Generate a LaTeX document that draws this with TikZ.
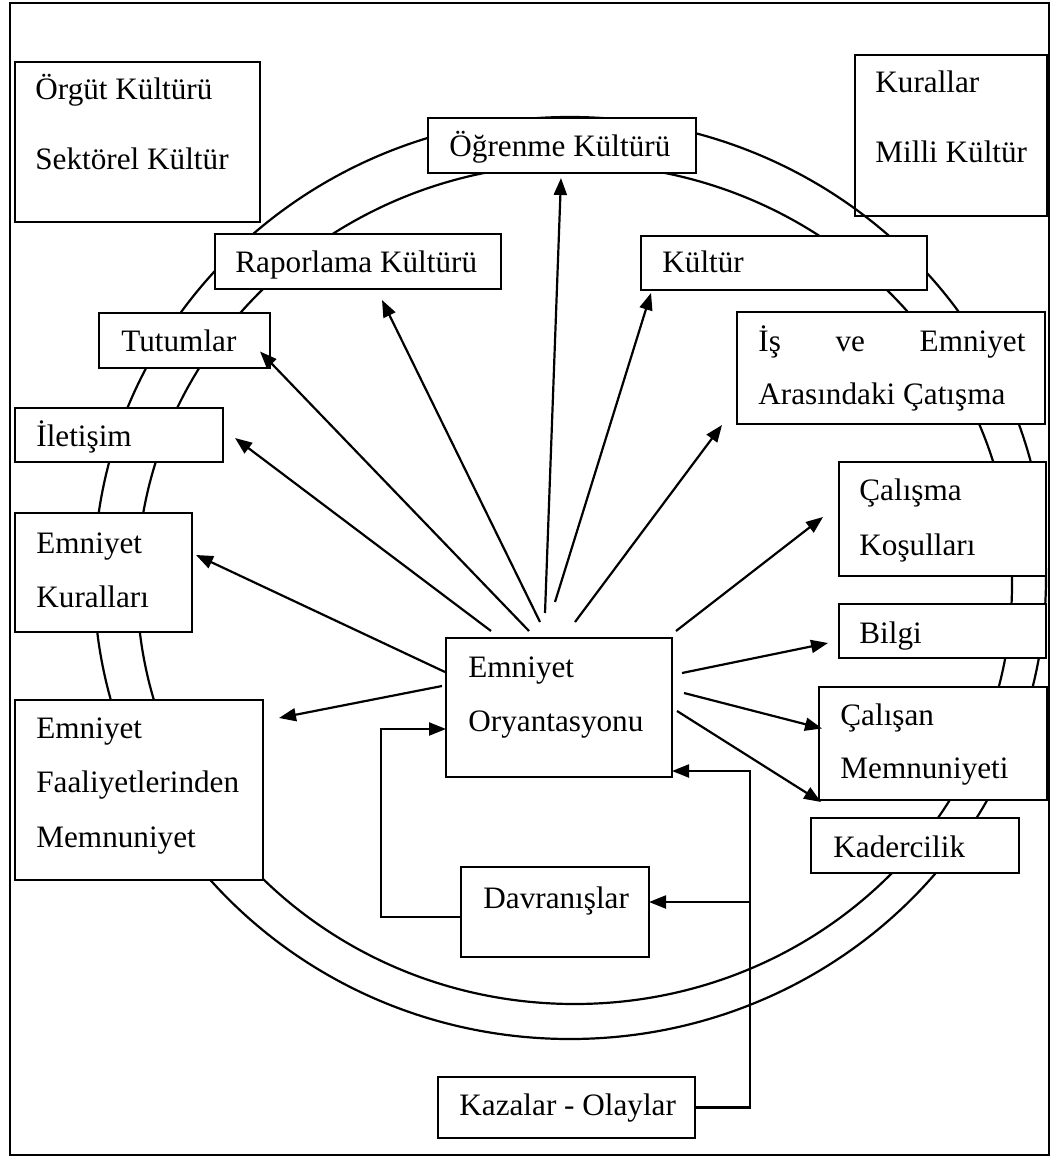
\documentclass[tikz,border=0pt]{standalone}
\usepackage{fontspec}
\setmainfont{Liberation Serif}
\usetikzlibrary{arrows.meta}

% box from corner (x1,y1) to (x2,y2), in picture units
\newcommand\pbox[6]{\node[#6, minimum width={(#4-#2)*0.5pt}, minimum height={(#5-#3)*0.5pt}] (#1) at ({(#2+#4)/2},{(#3+#5)/2}) {};}

\begin{document}
\begin{tikzpicture}[x=0.5pt,y=-0.5pt,
  ln/.style={line width=1.1pt, draw=black},
  box/.style={ln, rectangle, inner sep=0pt, outer sep=0pt},
  wbox/.style={box, fill=white},
  lbl/.style={anchor=base west, inner sep=0pt, font=\fontsize{15.6}{18}\selectfont},
  arr/.style={line width=1.1pt, -{Triangle[length=8.5pt,width=6.5pt]}},
]
\useasboundingbox (0,0) rectangle (1053,1159);
\fill[white] (0,0) rectangle (1053,1159);

% frame
\draw[line width=1.3pt] (10,3) rectangle (1049,1155);

% the two rings
\draw[ln] (570,578) ellipse [x radius=238pt, y radius=230.5pt];
\draw[ln] (574.5,584) ellipse [x radius=218.75pt, y radius=210pt];

% boxes
\pbox{org}{15}{62}{260}{222}{wbox}
\pbox{kur}{855}{55}{1047}{216}{box}
\pbox{og}{428}{118}{696}{173}{wbox}
\pbox{rap}{215}{234}{501}{289}{wbox}
\pbox{kul}{641}{236}{927}{290}{wbox}
\pbox{tut}{99}{313}{270}{368}{wbox}
\pbox{is}{737}{312}{1045}{424}{wbox}
\pbox{ilet}{15}{408}{223}{462}{wbox}
\pbox{ekur}{15}{513}{192}{632}{wbox}
\pbox{fa}{15}{700}{263}{880}{wbox}
\pbox{eo}{446}{638}{672}{777}{wbox}
\pbox{cal}{839}{462}{1046}{576}{wbox}
\pbox{bil}{839}{604}{1046}{658}{wbox}
\pbox{cm}{819}{687}{1047}{800}{wbox}
\pbox{kad}{811}{818}{1019}{873}{wbox}
\pbox{dav}{461}{867}{649}{957}{wbox}
\pbox{kaz}{438}{1077}{695}{1138}{wbox}

% texts
\node[lbl] (t1) at (35,100) {Örgüt Kültürü};
\node[lbl] (t2) at (35,170) {Sektörel Kültür};
\node[lbl] (t3) at (875,93) {Kurallar};
\node[lbl] (t4) at (875,163) {Milli Kültür};
\node[lbl] (t5) at (449,157) {Öğrenme Kültürü};
\node[lbl] (t6) at (235,273) {Raporlama Kültürü};
\node[lbl] (t7) at (662,273) {Kültür};
\node[lbl] (t8) at (121,352) {Tutumlar};
\node[lbl] (t9) at (758,352) {\makebox[133.5pt][s]{İş\hfill ve\hfill Emniyet}};
\node[lbl] (t10) at (758,405) {Arasındaki Çatışma};
\node[lbl] (t11) at (36,447) {İletişim};
\node[lbl] (t12) at (36,553) {Emniyet};
\node[lbl] (t13) at (36,607) {Kuralları};
\node[lbl] (t14) at (36,738) {Emniyet};
\node[lbl] (t15) at (36,792) {Faaliyetlerinden};
\node[lbl] (t16) at (36,847) {Memnuniyet};
\node[lbl] (t17) at (468,677) {Emniyet};
\node[lbl] (t18) at (468,731) {Oryantasyonu};
\node[lbl] (t19) at (859,500) {Çalışma};
\node[lbl] (t20) at (859,555) {Koşulları};
\node[lbl] (t21) at (859,643) {Bilgi};
\node[lbl] (t22) at (840,725) {Çalışan};
\node[lbl] (t23) at (840,778) {Memnuniyeti};
\node[lbl] (t24) at (833,857) {Kadercilik};
\node[lbl] (t25) at (483,908) {Davranışlar};
\node[lbl] (t26) at (459,1115) {Kazalar - Olaylar};

% arrows out of the central box
\draw[arr] ([shift={(45,-7)}]eo.north west) -- ([shift={(12,3)}]ilet.east);
\draw[arr] ([shift={(83,-7)}]eo.north west) -- ([shift={(-10,11)}]tut.east);
\draw[arr] ([shift={(-19,-16)}]eo.north) -- ([shift={(24,11)}]rap.south);
\draw[arr] ([shift={(-14,-25)}]eo.north) -- ([shift={(-1,5)}]og.south);
\draw[arr] ([shift={(-4,-36)}]eo.north) -- ([shift={(10,3)}]kul.south west);
\draw[arr] ([shift={(16,-16)}]eo.north) -- ([shift={(-15,1)}]is.south west);
\draw[arr] ([shift={(4,-7)}]eo.north east) -- ([shift={(-16,-2)}]cal.west);
\draw[arr] ([shift={(10,-34.5)}]eo.east) -- ([shift={(-11,12)}]bil.west);
\draw[arr] ([shift={(12,-14.5)}]eo.east) -- ([shift={(3,-15)}]cm.west);
\draw[arr] ([shift={(5,3.5)}]eo.east) -- ([shift={(2,2)}]cm.south west);
\draw[arr] ([shift={(-1,-35.5)}]eo.west) -- ([shift={(4,-17.5)}]ekur.east);
\draw[arr] ([shift={(-4,-21.5)}]eo.west) -- ([shift={(16,18)}]fa.north east);

% feedback from behaviour
\draw[arr] ([shift={(0,5)}]dav.west) -- ++(-80,0) |- ([shift={(0,21.5)}]eo.west);

% accidents feed back
\coordinate (bustop) at ([shift={(78,-6)}]eo.south east);
\coordinate (davtip) at ([shift={(0,-10)}]dav.east);
\draw[arr] (kaz.east) -| (bustop) -- ([shift={(0,-6)}]eo.south east);
\draw[arr] (bustop |- davtip) -- (davtip);
\end{tikzpicture}
\end{document}
